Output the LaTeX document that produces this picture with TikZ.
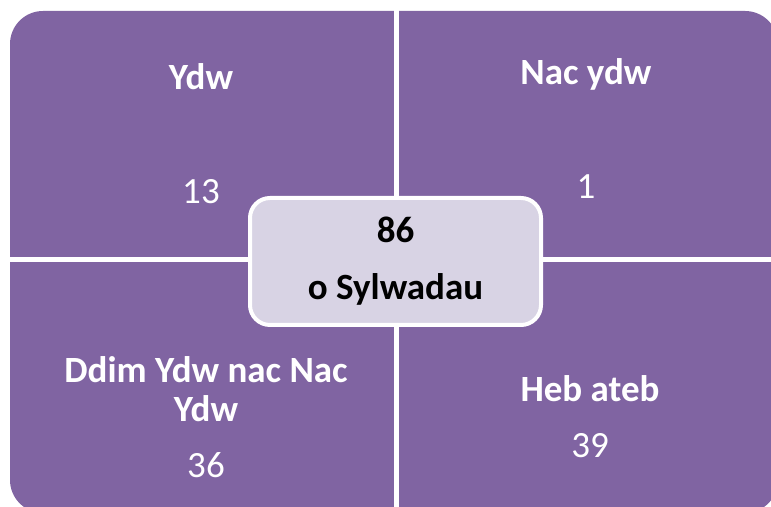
\documentclass[tikz,border=0pt]{standalone}
\usepackage{fontspec}
\setmainfont{Carlito}
\usepackage{xcolor}
\usepackage{tikz}
\definecolor{quadpurple}{HTML}{8064A2}
\definecolor{centrelav}{HTML}{D8D3E4}

\begin{document}
\begin{tikzpicture}[x=0.5pt, y=0.5pt,
  head/.style={text=white, font=\fontsize{18.5}{19.5}\selectfont\bfseries, anchor=base, inner sep=0pt, align=center},
  count/.style={text=white, font=\fontsize{18.5}{19.5}\selectfont, anchor=base, inner sep=0pt}]
\newcommand{\Pw}{771};
\newcommand{\Ph}{507};
\newcommand{\Qx}{396};
\newcommand{\Qy}{247};
\useasboundingbox (0, 0) rectangle (\Pw, \Ph);
\coordinate (Qbl) at (10, -6);
\coordinate (Qtr) at (778, 496);
\coordinate (Vt) at (\Qx, \Ph);
\coordinate (Vb) at (\Qx, -10);
\coordinate (Hl) at (0, \Qy);
\coordinate (Hr) at (\Pw, \Qy);

% quadrants + separators
\fill[quadpurple, rounded corners=16.5pt] (Qbl) rectangle (Qtr);
\draw[white, line width=2.5pt] (Vt) -- (Vb);
\draw[white, line width=2.5pt] (Hl) -- (Hr);
%

% labels
\node[head] (ydw) at (201, 417) {Ydw};
\node[count] (ydwn) at (201, 303) {13};
\node[head] (nacydw) at (586, 422) {Nac ydw};
\node[count] (nacydwn) at (586, 308) {1};
\node[head, anchor=center] (ddim) at (206, 118) {Ddim Ydw nac Nac\\Ydw};
\node[count] (ddimn) at (206, 29) {36};
\node[head] (heb) at (590, 105) {Heb ateb};
\node[count] (hebn) at (590, 49) {39};
\node[draw=white, line width=2pt, fill=centrelav, rounded corners=10pt,
      minimum width=145.5pt, minimum height=63.5pt, align=center,
      font=\fontsize{18.5}{28.5}\selectfont\bfseries] (sylw) at (395.5, 245.5) {86\\o Sylwadau};
%
\end{tikzpicture}
\end{document}
